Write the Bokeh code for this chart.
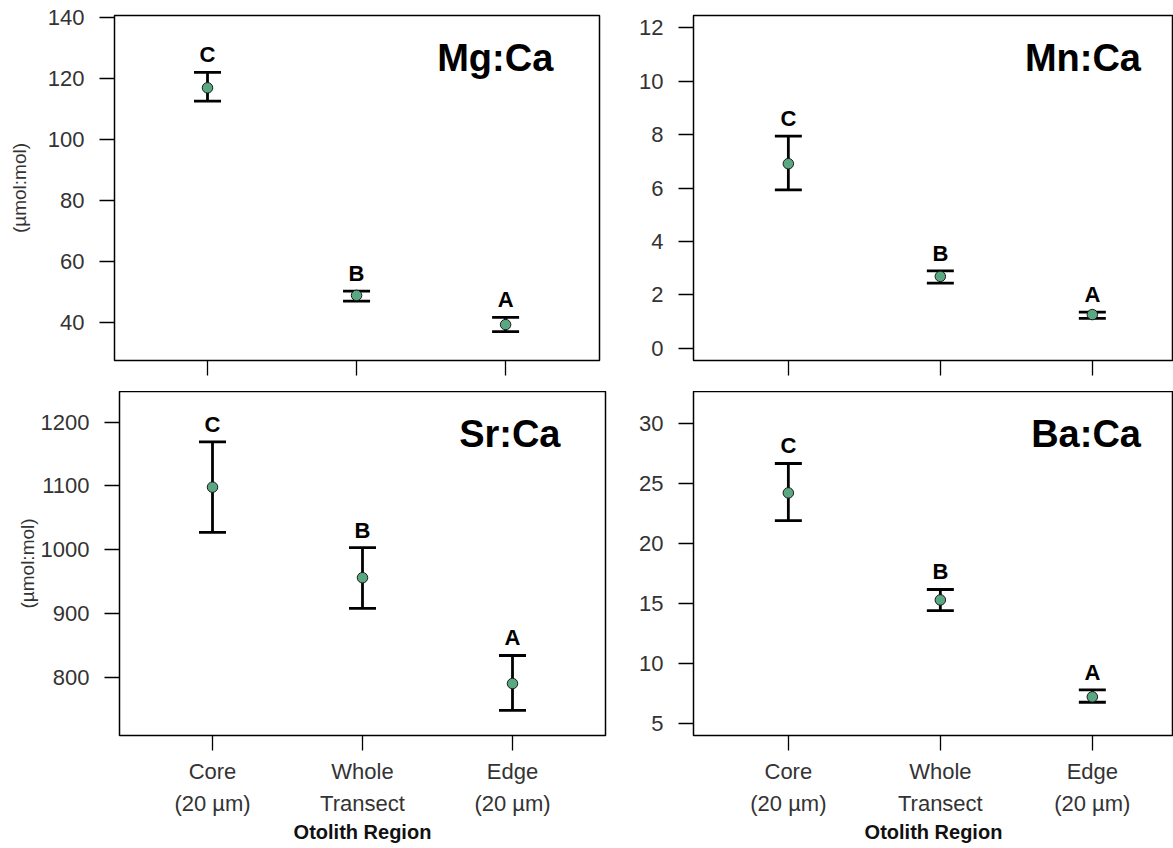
from bokeh.plotting import figure
from bokeh.models import FixedTicker, Whisker, TeeHead, ColumnDataSource, Range1d, LabelSet
from bokeh.layouts import column, row
from bokeh.core.properties import value
from bokeh.embed import file_html
from bokeh.resources import INLINE

FONT = "Liberation Sans"
GREEN = "#5aa881"

# ---- data ----
x_positions = [1, 2, 3]
region_labels = ["Core\n(20 µm)", "Whole\nTransect", "Edge\n(20 µm)"]
letters = ["C", "B", "A"]

mg_mean = [117.0, 48.8, 39.2]
mg_lower = [112.6, 46.9, 36.9]
mg_upper = [122.1, 50.2, 41.6]
mg_ticks = [40, 60, 80, 100, 120, 140]

mn_mean = [6.91, 2.69, 1.26]
mn_lower = [5.93, 2.44, 1.12]
mn_upper = [7.94, 2.90, 1.35]
mn_ticks = [0, 2, 4, 6, 8, 10, 12]

sr_mean = [1098, 956, 790]
sr_lower = [1027, 908, 748]
sr_upper = [1169, 1003, 834]
sr_ticks = [800, 900, 1000, 1100, 1200]

ba_mean = [24.25, 15.33, 7.25]
ba_lower = [21.94, 14.44, 6.80]
ba_upper = [26.70, 16.20, 7.83]
ba_ticks = [5, 10, 15, 20, 25, 30]


def panel(name, mean, lower, upper, yr, yticks, xr, width, height,
          mbl, mbr, mbt, mbb, bottom, ylabel, als):
    p = figure(width=width, height=height, title=None,
               x_range=Range1d(*xr), y_range=Range1d(*yr),
               output_backend="svg", toolbar_location=None,
               min_border_left=mbl, min_border_right=mbr,
               min_border_top=mbt, min_border_bottom=mbb)
    p.grid.visible = False
    p.outline_line_color = "black"
    p.outline_line_width = 1.5
    p.background_fill_color = "white"
    p.border_fill_color = "white"

    for ax in (p.xaxis[0], p.yaxis[0]):
        ax.axis_line_color = None
        ax.major_tick_line_color = "black"
        ax.major_tick_line_width = 1.3
        ax.major_tick_in = 0
        ax.major_tick_out = 15
        ax.minor_tick_line_color = None
        ax.major_label_text_font = FONT
        ax.major_label_text_font_size = "22px"
        ax.major_label_text_color = "#333333"

    p.yaxis.ticker = FixedTicker(ticks=yticks)
    p.yaxis.major_label_standoff = 15
    if ylabel:
        p.yaxis.axis_label = "(µmol:mol)"
        p.yaxis.axis_label_text_font = FONT
        p.yaxis.axis_label_text_font_style = "normal"
        p.yaxis.axis_label_text_font_size = "19px"
        p.yaxis.axis_label_text_color = "#333333"
        p.yaxis.axis_label_standoff = als

    p.xaxis.ticker = FixedTicker(ticks=x_positions)
    if bottom:
        p.xaxis.major_label_overrides = {k: v for k, v in zip(x_positions, region_labels)}
        p.xaxis.major_label_standoff = 8
        p.xaxis.major_label_text_line_height = 1.3
        p.xaxis.axis_label = "Otolith Region"
        p.xaxis.axis_label_text_font = FONT
        p.xaxis.axis_label_text_font_style = "bold"
        p.xaxis.axis_label_text_font_size = "20px"
        p.xaxis.axis_label_text_color = "#111111"
        p.xaxis.axis_label_standoff = 2
    else:
        p.xaxis.major_label_overrides = {k: "" for k in x_positions}
        p.xaxis.major_label_text_font_size = "1px"
        p.xaxis.major_label_standoff = 0

    src = ColumnDataSource(dict(x=x_positions, mean=mean, lower=lower,
                                upper=upper, letter=letters))
    w = Whisker(base="x", lower="lower", upper="upper", source=src,
                line_width=2.8, line_color="black",
                upper_head=TeeHead(size=27, line_width=2.8, line_color="black"),
                lower_head=TeeHead(size=27, line_width=2.8, line_color="black"))
    p.add_layout(w)
    p.scatter(x="x", y="mean", source=src, size=10.5, fill_color=GREEN,
              line_color="#1a1a1a", line_width=1)
    lab = LabelSet(x="x", y="upper", text="letter", source=src,
                   text_font=value(FONT), text_font_style="bold",
                   text_font_size="22px", text_color="black",
                   text_align="center", text_baseline="alphabetic", y_offset=10)
    p.add_layout(lab)

    ytitle = yr[1] - 0.123 * (yr[1] - yr[0])
    p.text(x=[3.32], y=[ytitle], text=[name], text_font=value(FONT),
           text_font_style="bold", text_font_size="38px", text_color="black",
           text_align="right", text_baseline="middle")
    return p


XL = (0.376, 3.63)
XR = (0.376, 3.534)
XBL = (0.38, 3.62)

p1 = panel("Mg:Ca", mg_mean, mg_lower, mg_upper, (27.4, 140.76), mg_ticks, XL,
           635, 391, 114, 36, 15, 31, False, True, 15)
p2 = panel("Mn:Ca", mn_mean, mn_lower, mn_upper, (-0.46, 12.46), mn_ticks, XR,
           538, 391, 58, 0, 15, 31, False, False, 0)
p3 = panel("Sr:Ca", sr_mean, sr_lower, sr_upper, (708.5, 1248.0), sr_ticks, XBL,
           635, 457, 119, 30, 0, 113, True, True, 0)
p4 = panel("Ba:Ca", ba_mean, ba_lower, ba_upper, (4.03, 32.7), ba_ticks, XR,
           538, 457, 58, 0, 0, 113, True, False, 0)

layout = column(row(p1, p2), row(p3, p4))
open("out.html", "w").write(file_html(layout, INLINE))
